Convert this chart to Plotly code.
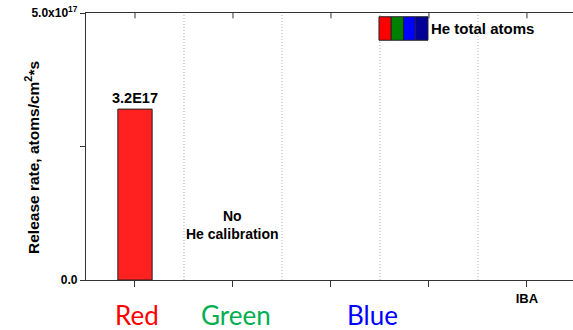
import plotly.graph_objects as go

# Release-rate data per sample position
categories = [0, 1, 2, 3, 4]
tick_labels = ["", "", "", "", "IBA"]
bar_positions = [0]
bar_values = [3.2e17]
bar_labels = ["3.2E17"]
group_names = ["Red", "Green", "Blue"]
group_colors = ["#FF0000", "#00B050", "#0000FF"]
group_centers = [0.02, 1.03, 2.42]
legend_colors = ["#FF0000", "#008000", "#0000FF", "#000099"]
legend_text = "He total atoms"
note_text = "No<br>He calibration"
y_title = "Release rate, atoms/cm<sup>2</sup>*s"
y_max = 5.0e17

fig = go.Figure()
fig.add_trace(go.Bar(
    x=bar_positions, y=bar_values, width=0.35,
    marker=dict(color="#FF2020", line=dict(color="#222222", width=1)),
    showlegend=False, hoverinfo="skip",
))

font_b = dict(family="Liberation Sans, Arial", color="black")

# value label above the bar
for xp, v, lbl in zip(bar_positions, bar_values, bar_labels):
    fig.add_annotation(x=xp, y=v, text="<b>%s</b>" % lbl, showarrow=False,
                       yanchor="bottom", yshift=1,
                       font=dict(size=14.5, **font_b))

fig.add_annotation(x=1, y=1.03e17, text="<b>%s</b>" % note_text, showarrow=False,
                   font=dict(size=14, **font_b), align="center")

# dotted separators between positions
shapes = []
for c in categories[:-1]:
    shapes.append(dict(type="line", xref="x", yref="paper", x0=c + 0.5, x1=c + 0.5,
                       y0=0, y1=1, line=dict(color="#b0b0b0", width=1, dash="1px,2px")))
# inward ticks along the top frame
for c in categories:
    shapes.append(dict(type="line", xref="x", yref="paper", x0=c, x1=c, y0=1, y1=0.98,
                       line=dict(color="#333333", width=1)))

# legend swatches
sw_x0 = 2.49
sw_w = 0.125
for i, col in enumerate(legend_colors):
    shapes.append(dict(type="rect", xref="x", yref="y",
                       x0=sw_x0 + i * sw_w, x1=sw_x0 + (i + 1) * sw_w,
                       y0=4.49e17, y1=4.93e17, fillcolor=col,
                       line=dict(color="#222222", width=1)))
fig.add_annotation(x=sw_x0 + 4 * sw_w, y=4.71e17, xanchor="left", xshift=1,
                   text="<b>%s</b>" % legend_text, showarrow=False,
                   font=dict(size=15, **font_b))

# colour group names below the axis
for name, col, xc in zip(group_names, group_colors, group_centers):
    fig.add_annotation(x=xc, y=-0.131, yref="paper", yanchor="middle",
                       text=name, showarrow=False,
                       font=dict(size=26, family="Lato, Open Sans", color=col))

# rotated axis title
fig.add_annotation(x=0, y=0.457, xref="paper", yref="paper", xshift=-66,
                   text="<b>%s</b>" % y_title, textangle=-90, showarrow=False,
                   font=dict(size=15.5, **font_b))

fig.update_layout(
    width=573, height=330,
    margin=dict(l=86, r=0, t=13, b=50),
    plot_bgcolor="white", paper_bgcolor="white",
    shapes=shapes,
    xaxis=dict(range=[-0.5, 4.47], tickmode="array", tickvals=categories,
               ticktext=["<b>%s</b>" % t if t else "" for t in tick_labels],
               ticks="outside", ticklen=6, tickcolor="#333333",
               showline=True, mirror=True, linecolor="#333333", linewidth=1.3,
               showgrid=False, zeroline=False,
               tickfont=dict(size=13, **font_b)),
    yaxis=dict(range=[0, y_max], tickmode="array", tickvals=[0, 2.5e17, 5.0e17],
               ticktext=["<b>0.0</b>", "", "<b>5.0x10<sup>17</sup></b>"],
               ticks="outside", ticklen=5, tickcolor="#333333",
               showline=True, linecolor="#333333", linewidth=1.3,
               showgrid=False, zeroline=False,
               tickfont=dict(size=12, **font_b)),
)

fig.write_html("out.html")
